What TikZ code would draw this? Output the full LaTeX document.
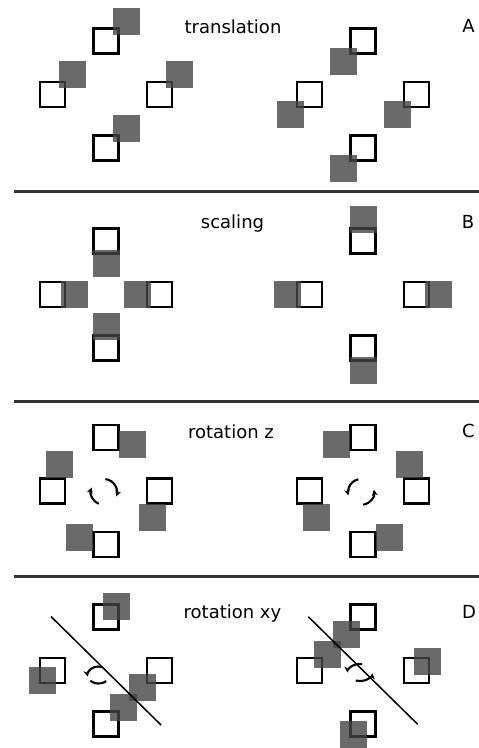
\documentclass[tikz,border=0pt]{standalone}
\usepackage{fontspec}
\setmainfont{DejaVu Sans}
\usetikzlibrary{arrows.meta}

\definecolor{sqgray}{RGB}{69,69,69}
\definecolor{rulegray}{RGB}{50,50,50}

\tikzset{
  opensq/.style={draw=black, line width=2.4pt, minimum size=25pt, inner sep=0pt, outer sep=0pt},
  graysq/.style={fill=sqgray, fill opacity=0.8, minimum size=27pt, inner sep=0pt, outer sep=0pt},
  title/.style={font=\fontsize{18}{22}\selectfont, anchor=base, inner sep=0pt},
  rule/.style={draw=rulegray, line width=2.6pt},
  axisline/.style={draw=black, line width=1.5pt},
  rotarr/.style={draw=black, line width=2.1pt, -{Stealth[length=6pt,width=6pt]}},
}

\begin{document}
\begin{tikzpicture}[x=1pt, y=1pt]
\useasboundingbox (0,0) rectangle (479,-748);
\fill[white] (0,0) rectangle (479,-748);

% ---------- A: translation ----------
\node[title] (tA) at (233,-33.3) {translation};
\node[title] (lA) at (468.5,-32.5) {A};
\begin{scope}[shift={(106,-94.5)}]
  \node[opensq] (aLo1) at (0,53.5) {};
  \node[opensq] (aLo2) at (-53.5,0) {};
  \node[opensq] (aLo3) at (53.5,0) {};
  \node[opensq] (aLo4) at (0,-53.5) {};
  \node[graysq] (aLg1) at (20,73.5) {};
  \node[graysq] (aLg2) at (-33.5,20) {};
  \node[graysq] (aLg3) at (73.5,20) {};
  \node[graysq] (aLg4) at (20,-33.5) {};
\end{scope}
\begin{scope}[shift={(363,-94.5)}]
  \node[opensq] (aRo1) at (0,53.5) {};
  \node[opensq] (aRo2) at (-53.5,0) {};
  \node[opensq] (aRo3) at (53.5,0) {};
  \node[opensq] (aRo4) at (0,-53.5) {};
  \node[graysq] (aRg1) at (-19.5,33.5) {};
  \node[graysq] (aRg2) at (-73,-20) {};
  \node[graysq] (aRg3) at (34,-20) {};
  \node[graysq] (aRg4) at (-19.5,-73.5) {};
\end{scope}

\draw[rule] (14,-191.3) -- (479,-191.3);

% ---------- B: scaling ----------
\node[title] (tB) at (232.5,-228.5) {scaling};
\node[title] (lB) at (468,-228.3) {B};
\begin{scope}[shift={(106,-294.5)}]
  \node[opensq] (bLo1) at (0,53.5) {};
  \node[opensq] (bLo2) at (-53.5,0) {};
  \node[opensq] (bLo3) at (53.5,0) {};
  \node[opensq] (bLo4) at (0,-53.5) {};
  \node[graysq] (bLg1) at (0,31.5) {};
  \node[graysq] (bLg2) at (-31.5,0) {};
  \node[graysq] (bLg3) at (31.5,0) {};
  \node[graysq] (bLg4) at (0,-31.5) {};
\end{scope}
\begin{scope}[shift={(363,-294.5)}]
  \node[opensq] (bRo1) at (0,53.5) {};
  \node[opensq] (bRo2) at (-53.5,0) {};
  \node[opensq] (bRo3) at (53.5,0) {};
  \node[opensq] (bRo4) at (0,-53.5) {};
  \node[graysq] (bRg1) at (0,75.5) {};
  \node[graysq] (bRg2) at (-75.5,0) {};
  \node[graysq] (bRg3) at (75.5,0) {};
  \node[graysq] (bRg4) at (0,-75.5) {};
\end{scope}

\draw[rule] (14,-401.3) -- (479,-401.3);

% ---------- C: rotation z ----------
\node[title] (tC) at (231,-438.3) {rotation z};
\node[title] (lC) at (468.5,-437.5) {C};
\begin{scope}[shift={(106,-491)}]
  \node[opensq] (cLo1) at (0,53.5) {};
  \node[opensq] (cLo2) at (-53.5,0) {};
  \node[opensq] (cLo3) at (53.5,0) {};
  \node[opensq] (cLo4) at (0,-53.5) {};
  \node[graysq] (cLg1) at (60:53.5) {};
  \node[graysq] (cLg2) at (150:53.5) {};
  \node[graysq] (cLg3) at (330:53.5) {};
  \node[graysq] (cLg4) at (240:53.5) {};
  % clockwise turn
  \coordinate (cLc) at (-2,-1);
  \draw[rotarr] ([shift={(84:13pt)}]cLc) arc[start angle=84, end angle=-20, radius=13pt];
  \draw[rotarr] ([shift={(246:13pt)}]cLc) arc[start angle=246, end angle=160, radius=13pt];
\end{scope}
\begin{scope}[shift={(363,-491)}]
  \node[opensq] (cRo1) at (0,53.5) {};
  \node[opensq] (cRo2) at (-53.5,0) {};
  \node[opensq] (cRo3) at (53.5,0) {};
  \node[opensq] (cRo4) at (0,-53.5) {};
  \node[graysq] (cRg1) at (120:53.5) {};
  \node[graysq] (cRg2) at (210:53.5) {};
  \node[graysq] (cRg3) at (30:53.5) {};
  \node[graysq] (cRg4) at (300:53.5) {};
  % counter-clockwise turn
  \coordinate (cRc) at (-2,-1);
  \draw[rotarr] ([shift={(102:13pt)}]cRc) arc[start angle=102, end angle=195, radius=13pt];
  \draw[rotarr] ([shift={(280:13pt)}]cRc) arc[start angle=280, end angle=370, radius=13pt];
\end{scope}

\draw[rule] (14,-576.7) -- (479,-576.7);

% ---------- D: rotation xy ----------
\node[title] (tD) at (232.5,-618.3) {rotation xy};
\node[title] (lD) at (469,-618.3) {D};
\begin{scope}[shift={(106,-670.5)}]
  \node[opensq] (dLo1) at (0,53.5) {};
  \node[opensq] (dLo2) at (-53.5,0) {};
  \node[opensq] (dLo3) at (53.5,0) {};
  \node[opensq] (dLo4) at (0,-53.5) {};
  \node[graysq] (dLg1) at (10,64) {};
  \node[graysq] (dLg2) at (-64,-10) {};
  \node[graysq] (dLg3) at (36.5,-17) {};
  \node[graysq] (dLg4) at (17,-36.5) {};
  \coordinate (dLa) at (-55,54);
  \coordinate (dLb) at (55,-54.5);
  \draw[axisline] (dLa) -- (dLb);
  \coordinate (dLc) at (-7.5,-4.5);
  \draw[rotarr] ([shift={(70:11pt and 8.5pt)}]dLc) arc[start angle=70, end angle=190, x radius=11pt, y radius=8.5pt];
  \draw[rotarr, -] ([shift={(222:11pt and 8.5pt)}]dLc) arc[start angle=222, end angle=315, x radius=11pt, y radius=8.5pt];
\end{scope}
\begin{scope}[shift={(363,-670.5)}]
  \node[opensq] (dRo1) at (0,53.5) {};
  \node[opensq] (dRo2) at (-53.5,0) {};
  \node[opensq] (dRo3) at (53.5,0) {};
  \node[opensq] (dRo4) at (0,-53.5) {};
  \node[graysq] (dRg1) at (-16.5,36) {};
  \node[graysq] (dRg2) at (-36,16.5) {};
  \node[graysq] (dRg3) at (64,9.5) {};
  \node[graysq] (dRg4) at (-9.5,-64) {};
  \coordinate (dRa) at (-54.7,53.8);
  \coordinate (dRb) at (54.7,-53.8);
  \draw[axisline] (dRa) -- (dRb);
  \coordinate (dRc) at (-3,-2);
  \draw[rotarr] ([shift={(80:12.5pt and 8.5pt)}]dRc) arc[start angle=80, end angle=180, x radius=12.5pt, y radius=8.5pt];
  \draw[rotarr] ([shift={(250:12.5pt and 8.5pt)}]dRc) arc[start angle=250, end angle=355, x radius=12.5pt, y radius=8.5pt];
\end{scope}
\end{tikzpicture}
\end{document}
